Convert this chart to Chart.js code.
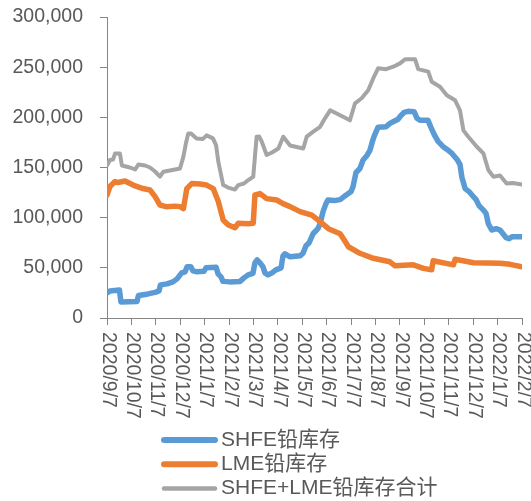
<!DOCTYPE html>
<html><head><meta charset="utf-8">
<script src="https://cdn.jsdelivr.net/npm/chart.js@4"></script>
<style>html,body{margin:0;padding:0;background:#fff}#wrap{width:531px;height:501px;position:relative}</style>
</head><body><div id="wrap"><canvas id="c"></canvas></div>
<script>
// x values: months since 2020/9/7 (tick i = tickLabels[i])
const tickLabels = ['2020/9/7','2020/10/7','2020/11/7','2020/12/7','2021/1/7','2021/2/7','2021/3/7','2021/4/7','2021/5/7','2021/6/7','2021/7/7','2021/8/7','2021/9/7','2021/10/7','2021/11/7','2021/12/7','2022/1/7','2022/2/7'];
const seriesNames = ['SHFE铅库存','LME铅库存','SHFE+LME铅库存合计'];
const shfe = [[0,25000],[0.12,27000],[0.51,28000],[0.57,16000],[1.23,16500],[1.29,22500],[1.68,24000],[1.97,25500],[2.13,27000],[2.19,33000],[2.46,34000],[2.70,36000],[2.87,39000],[3.06,45000],[3.20,46000],[3.28,51000],[3.44,51000],[3.52,47000],[3.69,46000],[3.97,46500],[4.06,50000],[4.47,50500],[4.55,44000],[4.67,41000],[4.75,36500],[5.03,36000],[5.45,36500],[5.61,40000],[5.78,43000],[5.98,44500],[6.06,55000],[6.15,58000],[6.27,55000],[6.39,51000],[6.47,45000],[6.60,43000],[6.76,45000],[6.92,48000],[7.13,50000],[7.21,62000],[7.29,64000],[7.50,61000],[7.91,62000],[8.03,64500],[8.15,72000],[8.28,75000],[8.44,84000],[8.64,89000],[8.73,94000],[8.85,106000],[8.97,114000],[9.05,117600],[9.30,117000],[9.55,118000],[9.71,121000],[9.83,123000],[10.00,126000],[10.08,131000],[10.20,145000],[10.36,149000],[10.49,157500],[10.65,162000],[10.77,167000],[10.86,175000],[10.94,181000],[11.10,190000],[11.43,190600],[11.59,194000],[11.72,195600],[11.92,198000],[12.00,200600],[12.17,205000],[12.33,206000],[12.58,205600],[12.70,199000],[12.82,197000],[13.15,197000],[13.27,190000],[13.40,183000],[13.56,176000],[13.76,171000],[13.93,168000],[14.13,164000],[14.34,158000],[14.46,153000],[14.54,140000],[14.67,129000],[14.83,126000],[14.95,122600],[15.12,118000],[15.24,112000],[15.44,107000],[15.53,104000],[15.62,94000],[15.76,87700],[15.94,89000],[16.10,87700],[16.22,84000],[16.35,80000],[16.47,79000],[16.59,81000],[17.00,81000]];
const lme = [[0,122600],[0.12,131000],[0.33,136000],[0.45,135000],[0.74,136500],[1.07,132500],[1.47,129000],[1.76,127600],[1.97,121000],[2.17,112600],[2.42,111000],[2.79,111500],[2.99,111000],[3.13,109000],[3.27,129000],[3.47,134000],[3.81,133500],[4.08,132500],[4.35,129000],[4.56,116000],[4.76,97700],[4.97,92700],[5.24,90000],[5.38,94400],[5.79,94000],[5.99,94400],[6.06,122600],[6.27,124000],[6.54,119000],[6.95,117600],[7.21,114000],[7.50,111000],[7.91,106000],[8.39,102600],[8.73,96000],[9.07,89000],[9.55,84000],[9.71,78000],[9.89,71000],[10.36,64500],[10.91,59500],[11.59,56000],[11.80,52000],[12.55,53000],[12.96,49500],[13.30,48000],[13.36,57000],[14.19,53000],[14.26,58500],[15.01,55000],[16.10,54500],[16.51,53500],[17.00,51000]];
const total = [[0,152000],[0.12,157500],[0.25,158000],[0.33,164000],[0.53,164000],[0.61,152000],[0.94,150000],[1.15,148000],[1.29,153000],[1.56,152000],[1.76,150000],[1.97,146000],[2.17,141000],[2.31,145800],[2.58,147000],[2.99,149000],[3.13,160800],[3.24,175000],[3.33,184000],[3.44,184000],[3.67,179000],[3.93,178500],[4.08,182000],[4.34,179000],[4.47,172000],[4.56,155800],[4.76,132500],[4.96,130000],[5.24,128000],[5.38,132500],[5.61,134000],[5.79,137500],[5.99,140800],[6.13,180700],[6.23,181000],[6.34,175700],[6.54,162400],[6.76,165000],[7.02,169000],[7.22,180700],[7.50,172000],[8.04,169000],[8.18,180700],[8.45,185700],[8.73,190600],[8.93,199000],[9.14,207000],[9.55,202000],[9.95,197000],[10.16,214000],[10.43,219000],[10.70,227000],[10.91,239000],[11.11,249000],[11.43,248000],[11.73,250500],[12.00,253800],[12.21,257800],[12.62,257800],[12.75,248000],[13.16,245500],[13.30,235500],[13.64,230500],[13.92,222000],[14.26,217000],[14.46,207000],[14.60,187000],[14.80,180700],[15.15,170700],[15.42,164000],[15.62,147500],[15.83,140800],[16.10,142000],[16.37,134000],[16.63,134500],[17.00,133000]];
const yTicks = [0,50000,100000,150000,200000,250000,300000];

const FONT = '"Liberation Sans", "Noto Sans CJK SC", sans-serif';
const toPts = a => a.map(p => ({x: p[0], y: p[1]}));
const colors = ['#5B9BD5', '#ED7D31', '#A5A5A5'];
const widths = [5.5, 5.5, 4];

const overlay = {
  id: 'overlay',
  afterDraw(chart) {
    const ctx = chart.ctx, xs = chart.scales.x, area = chart.chartArea;
    ctx.save();
    ctx.fillStyle = '#595959';
    ctx.font = '19.5px ' + FONT;
    ctx.textAlign = 'left';
    ctx.textBaseline = 'middle';
    tickLabels.forEach((t, i) => {
      const x = xs.getPixelForValue(i);
      ctx.save();
      ctx.translate(x + 1, area.bottom + 14);
      ctx.rotate(Math.PI / 2);
      ctx.fillText(t, 0, 0);
      ctx.restore();
    });
    chart.data.datasets.forEach((ds, i) => {
      const y = 440 + i * 24.2;
      ctx.strokeStyle = ds.borderColor;
      ctx.lineWidth = i < 2 ? 6 : 4.5;
      ctx.lineCap = 'round';
      ctx.beginPath(); ctx.moveTo(164, y); ctx.lineTo(215, y); ctx.stroke();
      ctx.fillStyle = '#595959';
      ctx.font = '21px ' + FONT;
      ctx.fillText(ds.label, 221, y);
    });
    ctx.restore();
  }
};

new Chart(document.getElementById('c'), {
  type: 'line',
  data: {
    datasets: [shfe, lme, total].map((d, i) => ({
      label: seriesNames[i], data: toPts(d), borderColor: colors[i], backgroundColor: colors[i],
      borderWidth: widths[i], pointRadius: 0, fill: false, tension: 0,
      borderJoinStyle: 'round', borderCapStyle: 'round', order: 2 - i
    }))
  },
  options: {
    responsive: true, maintainAspectRatio: false, animation: false,
    layout: {padding: {left: 0, right: 9, top: 17, bottom: 0}},
    plugins: {legend: {display: false}, tooltip: {enabled: false}},
    scales: {
      x: {
        type: 'linear', min: 0, max: tickLabels.length - 1,
        afterBuildTicks: s => { s.ticks = tickLabels.map((_, i) => ({value: i})); },
        ticks: {display: false},
        grid: {drawOnChartArea: false, drawTicks: true, tickLength: 7, color: '#868686'},
        border: {color: '#868686', width: 1},
        afterFit: s => { s.height = 501 - 318; s.paddingLeft = 0; s.paddingRight = 0; }
      },
      y: {
        min: 0, max: 300000,
        afterBuildTicks: s => { s.ticks = yTicks.map(v => ({value: v})); },
        ticks: {color: '#595959', font: {family: FONT, size: 19.5}, padding: 17,
          callback: v => v.toLocaleString('en-US')},
        grid: {drawOnChartArea: false, drawTicks: true, tickLength: 7, color: '#868686'},
        border: {color: '#868686', width: 1},
        afterFit: s => { s.width = 107; s.paddingTop = 0; s.paddingBottom = 0; }
      }
    }
  },
  plugins: [overlay]
});
</script>
</body></html>
